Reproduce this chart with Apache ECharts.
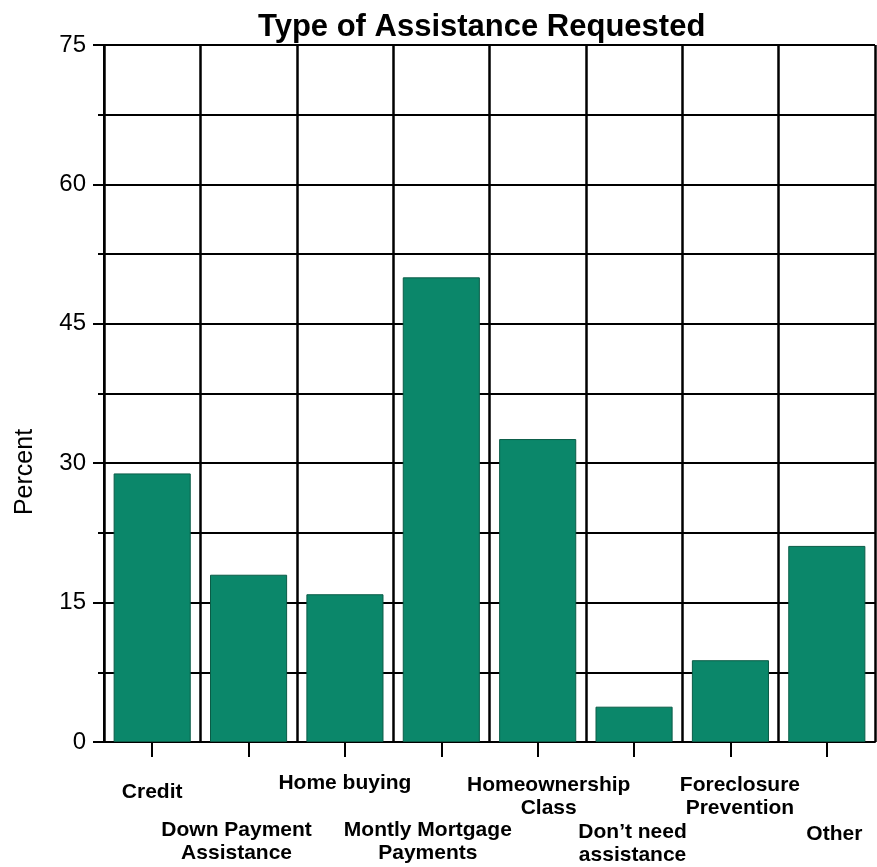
<!DOCTYPE html>
<html><head><meta charset="utf-8">
<script src="https://cdn.jsdelivr.net/npm/echarts@6/dist/echarts.min.js"></script>
<style>html,body{margin:0;padding:0;background:#fff}#c{width:877px;height:867px}</style>
</head><body><div id="c"></div>
<script>
// ---- data ----
const chartTitle = 'Type of Assistance Requested';
const yName = 'Percent';
const categories = ['Credit', 'Down Payment\nAssistance', 'Home buying', 'Montly Mortgage\nPayments',
  'Homeownership\nClass', 'Don\u2019t need\nassistance', 'Foreclosure\nPrevention', 'Other'];
const percent = [28.9, 18.0, 15.9, 50.0, 32.6, 3.8, 8.8, 21.1];
const yTicks = [0, 15, 30, 45, 60, 75];

// ---- layout (label offsets: staggered rows) ----
const labelPad = [[9,0,0,0],[47,24,0,0],[0,0,0,0],[47,27,0,0],[2,0,0,22],[49,3,0,0],[2,0,0,19],[51,0,0,15]];

const chart = echarts.init(document.getElementById('c'), null, {renderer: 'canvas'});
const font = '"Liberation Sans", Arial, sans-serif';
chart.setOption({
  animation: false,
  backgroundColor: '#fff',
  textStyle: {fontFamily: font},
  title: {
    text: chartTitle, left: 253, top: 7,
    textStyle: {fontFamily: font, fontSize: 31, fontWeight: 'bold', color: '#000'}
  },
  grid: {left: 104, right: 2, top: 45, bottom: 125, containLabel: false, outerBoundsMode: 'none'},
  xAxis: {
    type: 'category',
    data: categories.map((c, i) => ({value: c, textStyle: {padding: labelPad[i]}})),
    boundaryGap: true,
    axisLine: {show: true, lineStyle: {color: '#000', width: 2}},
    axisTick: {show: true, alignWithLabel: true, interval: 0, length: 15, lineStyle: {color: '#000', width: 2}},
    axisLabel: {interval: 0, margin: 30, color: '#000', fontFamily: font, fontSize: 21, fontWeight: 'bold', lineHeight: 23, align: 'center', hideOverlap: false},
    splitLine: {show: true, interval: 0, lineStyle: {color: '#000', width: 2.5}}
  },
  yAxis: {
    type: 'value',
    min: yTicks[0], max: yTicks[yTicks.length - 1], interval: yTicks[1] - yTicks[0],
    name: yName, nameLocation: 'middle', nameGap: 66, nameRotate: 90,
    nameTextStyle: {color: '#000', fontFamily: font, fontSize: 25, padding: [0, 157, 0, 0]},
    axisLine: {show: true, lineStyle: {color: '#000', width: 2}},
    axisTick: {show: true, length: 11, lineStyle: {color: '#000', width: 2}},
    minorTick: {show: true, splitNumber: 2, length: 6, lineStyle: {color: '#000', width: 2}},
    axisLabel: {margin: 18, color: '#000', fontFamily: font, fontSize: 24},
    splitLine: {show: true, lineStyle: {color: '#000', width: 2}},
    minorSplitLine: {show: true, lineStyle: {color: '#000', width: 1.8}}
  },
  series: [{
    type: 'bar',
    data: percent,
    barCategoryGap: '20%',
    itemStyle: {color: '#0b876a', borderColor: '#0a5c47', borderWidth: 1}
  }]
});
</script></body></html>
